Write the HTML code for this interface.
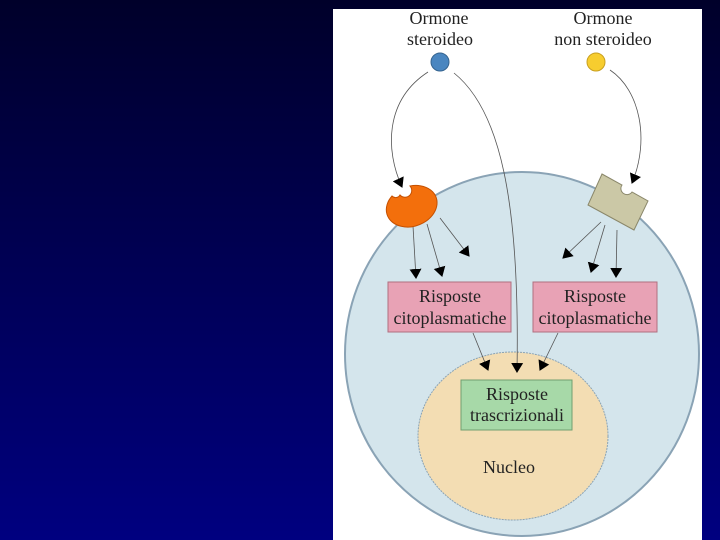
<!DOCTYPE html>
<html><head><style>
body{margin:0;width:720px;height:540px;overflow:hidden;background:linear-gradient(#00002a,#000080);}
svg{position:absolute;left:0;top:0}
text{font-family:"Liberation Serif",serif;font-size:18px;fill:#222;text-anchor:middle}
</style></head><body>
<svg width="720" height="540">
<defs><marker id="a" markerWidth="10" markerHeight="14" refX="9" refY="7" orient="auto" markerUnits="userSpaceOnUse"><path d="M0,1 L10,7 L0,13 z" fill="#000"/></marker></defs>
<rect x="333" y="9" width="369" height="531" fill="#fff"/>
<ellipse cx="522" cy="354" rx="177" ry="182" fill="#d4e5ec" stroke="#8aa3b5" stroke-width="2"/>
<ellipse cx="513" cy="436" rx="95" ry="84" fill="#f3ddb3" stroke="#8aa3b5" stroke-width="1" stroke-dasharray="2,1"/>
<text x="439" y="24">Ormone</text><text x="440" y="45">steroideo</text>
<text x="603" y="24">Ormone</text><text x="603" y="45">non steroideo</text>
<circle cx="440" cy="62" r="9" fill="#4a86c0" stroke="#36648f"/>
<circle cx="596" cy="62" r="9" fill="#f7cd2f" stroke="#c9a020"/>
<g fill="none" stroke="#555" stroke-width="0.8" marker-end="url(#a)">
<path d="M428,72 C385,100 385,150 402,187"/>
<path d="M454,73 C500,110 520,200 517,372"/>
<path d="M610,70 C640,90 650,140 632,183"/>
<path d="M413,226 L416,278"/><path d="M427,224 L442,276"/><path d="M440,218 L469,256"/>
<path d="M601,222 L563,258"/><path d="M605,225 L591,272"/><path d="M617,230 L616,277"/>
<path d="M473,333 L488,370"/><path d="M558,333 L540,370"/>
</g>
<path d="M392,196 A26,20 -20 1 0 410,186 A6,6 0 0 1 400,195 A5,5 0 0 1 392,196 Z" fill="#f36f0c" stroke="#c55000"/>
<path d="M602,174 L622,185 A5,5 0 0 0 632,192 L648,201 L634,230 L588,205 Z" fill="#cbc8a6" stroke="#8a876a"/>
<rect x="388" y="282" width="123" height="50" fill="#e8a2b5" stroke="#b07080"/>
<rect x="533" y="282" width="124" height="50" fill="#e8a2b5" stroke="#b07080"/>
<rect x="461" y="380" width="111" height="50" fill="#a7d9a8" stroke="#70a070"/>
<text x="450" y="302">Risposte</text><text x="450" y="324">citoplasmatiche</text>
<text x="595" y="302">Risposte</text><text x="595" y="324">citoplasmatiche</text>
<text x="517" y="400">Risposte</text><text x="517" y="421">trascrizionali</text>
<text x="509" y="473">Nucleo</text>
</svg>
</body></html>
